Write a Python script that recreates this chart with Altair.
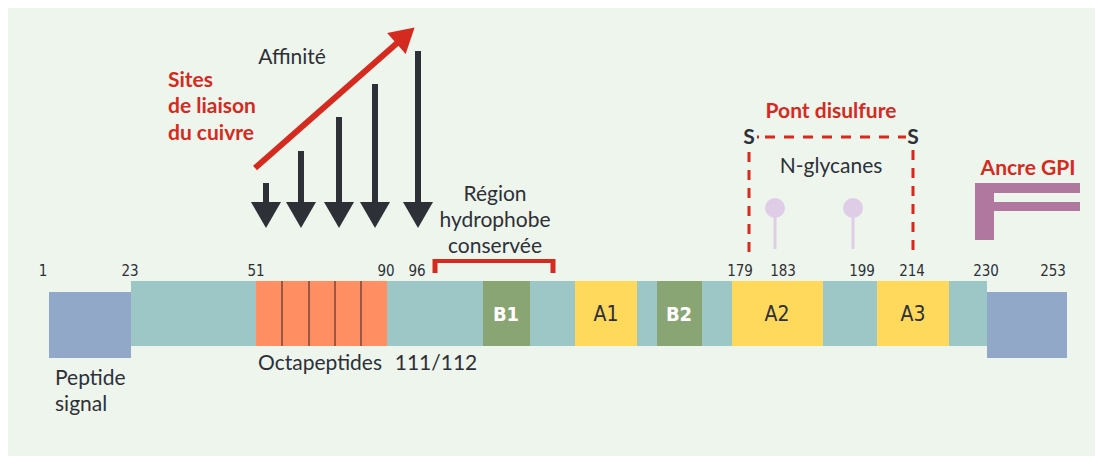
import altair as alt
import pandas as pd

# ---------------- data (diagram units = horizontal place along the schematic) ----------------
seg_names = ["Peptide signal", "Chaîne", "Octapeptides", "B1", "A1", "B2", "A2", "A3", "Signal GPI"]
seg_kind = ["signal", "core", "octa", "beta", "alpha", "beta", "alpha", "alpha", "signal"]
seg_start = [49, 131, 256, 483, 575, 657, 732, 877, 987]
seg_end = [131, 987, 387, 530, 637, 702, 823, 949, 1067]

octa_bounds = [282, 309, 335, 361]          # borders between the 5 octapeptide repeats

res_labels = ["1", "23", "51", "90", "96", "179", "183", "199", "214", "230", "253"]
res_pos = [43, 130, 256, 386, 417, 740, 783, 862, 912, 986, 1053]

sse_labels = ["B1", "A1", "B2", "A2", "A3"]
sse_pos = [506, 606, 679, 777, 913]

cu_sites = [266, 301, 339, 375, 418]          # copper binding sites
cu_affinity = [183, 151, 117, 84, 51]         # top of each arrow (higher = stronger affinity)

glycan_pos = [775, 853]                       # N-glycans (183 / 199)
ss_pos = [749, 913]                           # disulfide bridge cysteines (179 / 214)

# ---------------- layout ----------------
W, H = 1087, 448
X0, Y0 = 8, 8
BG = "#eef5ec"
TEAL = "#9dc6c6"
BLUE = "#91a8c8"
ORANGE = "#ff8f62"
GREEN = "#89a574"
YELLOW = "#ffd95c"
RED = "#d42a1f"
DARK = "#2d3037"
LILAC = "#dfcde8"
PURPLE = "#b1789f"
DIVIDER = "#7a4535"
NARROW = "'DejaVu Sans Condensed', 'DejaVu Sans', sans-serif"
SANS = "Lato, 'Open Sans', sans-serif"

kind_color = {"signal": BLUE, "core": TEAL, "octa": ORANGE, "beta": GREEN, "alpha": YELLOW}
kind_y = {"signal": (292, 358), "core": (281, 346), "octa": (281, 346),
          "beta": (281, 346), "alpha": (281, 346)}
kind_order = {"signal": 1, "core": 0, "octa": 2, "beta": 2, "alpha": 2}

XS = alt.Scale(domain=[X0, X0 + W], nice=False, zero=False)
YS = alt.Scale(domain=[Y0 + H, Y0], nice=False, zero=False)


def X(f="x"):
    return alt.X(f"{f}:Q", scale=XS, axis=None)


def Y(f="y"):
    return alt.Y(f"{f}:Q", scale=YS, axis=None)


# segments of the protein
seg = pd.DataFrame({
    "name": seg_names, "kind": seg_kind, "x": seg_start, "x2": seg_end,
})
seg["y"] = [kind_y[k][0] for k in seg_kind]
seg["y2"] = [kind_y[k][1] for k in seg_kind]
seg["color"] = [kind_color[k] for k in seg_kind]
seg["order"] = [kind_order[k] for k in seg_kind]

layers = []
for o in [0, 1, 2]:
    d = seg[seg["order"] == o]
    layers.append(alt.Chart(d).mark_rect().encode(
        x=X("x"), x2="x2:Q", y=Y("y"), y2="y2:Q",
        color=alt.Color("color:N", scale=None)))

# octapeptide repeat borders
layers.append(alt.Chart(pd.DataFrame({"x": octa_bounds, "y": 281, "y2": 346})).mark_rule(
    color=DIVIDER, strokeWidth=1.5).encode(x=X("x"), y=Y("y"), y2="y2:Q"))


def text_layer(df, **mk):
    return alt.Chart(df).mark_text(**mk).encode(x=X("x"), y=Y("y"), text="t:N")


# residue numbers
layers.append(text_layer(pd.DataFrame({"x": res_pos, "y": 276, "t": res_labels}),
                         font=NARROW, fontSize=15, color=DARK,
                         align="center", baseline="alphabetic"))

# secondary structure labels
sse = pd.DataFrame({"x": sse_pos, "y": 321, "t": sse_labels})
layers.append(text_layer(sse[sse["t"].str.startswith("B")], font=NARROW,
                         fontSize=20, fontWeight="bold", color="white",
                         align="center", baseline="alphabetic"))
layers.append(text_layer(sse[sse["t"].str.startswith("A")], font=NARROW,
                         fontSize=21, color=DARK, align="center", baseline="alphabetic"))

# dark labels
dark_txt = pd.DataFrame({
    "x": [55, 55, 320, 436, 495, 495, 495, 292, 831],
    "y": [385, 411, 370, 370, 201, 227, 253, 64, 173],
    "t": ["Peptide", "signal", "Octapeptides", "111/112", "Région", "hydrophobe",
          "conservée", "Affinité", "N-glycanes"],
    "a": ["left", "left", "center", "center", "center", "center", "center", "center", "center"],
})
for a in ["left", "center"]:
    layers.append(text_layer(dark_txt[dark_txt["a"] == a], font=SANS, fontSize=21,
                             color=DARK, align=a, baseline="alphabetic"))

# red bold labels
red_txt = pd.DataFrame({
    "x": [168, 168, 168, 831, 1028],
    "y": [87, 113, 140, 118, 175],
    "t": ["Sites", "de liaison", "du cuivre", "Pont disulfure", "Ancre GPI"],
    "a": ["left", "left", "left", "center", "center"],
})
for a in ["left", "center"]:
    layers.append(text_layer(red_txt[red_txt["a"] == a], font=SANS, fontSize=21,
                             fontWeight="bold", color=RED, align=a, baseline="alphabetic"))

# S atoms
layers.append(text_layer(pd.DataFrame({"x": ss_pos, "y": 144, "t": ["S", "S"]}),
                         font=SANS, fontSize=21, fontWeight="bold", color=DARK,
                         align="center", baseline="alphabetic"))

# hydrophobic region bracket
layers.append(alt.Chart(pd.DataFrame({"x": [433], "x2": [555], "y": [261]})).mark_rule(
    color=RED, strokeWidth=4).encode(x=X("x"), x2="x2:Q", y=Y("y")))
layers.append(alt.Chart(pd.DataFrame({"x": [435, 553], "y": 259, "y2": 273})).mark_rule(
    color=RED, strokeWidth=5).encode(x=X("x"), y=Y("y"), y2="y2:Q"))

# disulfide dashed lines
layers.append(alt.Chart(pd.DataFrame({"x": ss_pos, "y": [152, 150], "y2": 255})).mark_rule(
    color=RED, strokeWidth=3, strokeDash=[10, 8]).encode(x=X("x"), y=Y("y"), y2="y2:Q"))
layers.append(alt.Chart(pd.DataFrame({"x": [765], "x2": [906], "y": [137]})).mark_rule(
    color=RED, strokeWidth=3, strokeDash=[10, 9]).encode(x=X("x"), x2="x2:Q", y=Y("y")))
layers.append(alt.Chart(pd.DataFrame({"x": [757], "x2": [759], "y": [137]})).mark_rule(
    color=RED, strokeWidth=3).encode(x=X("x"), x2="x2:Q", y=Y("y")))

# glycans
layers.append(alt.Chart(pd.DataFrame({"x": glycan_pos, "y": 208, "y2": 249})).mark_rule(
    color=LILAC, strokeWidth=3).encode(x=X("x"), y=Y("y"), y2="y2:Q"))
layers.append(alt.Chart(pd.DataFrame({"x": glycan_pos, "y": 208})).mark_point(
    shape="circle", filled=True, size=400, color=LILAC, opacity=1, strokeWidth=0).encode(
    x=X("x"), y=Y("y")))

# GPI anchor
gpi = pd.DataFrame({"x": [975, 975, 994], "x2": [994, 1080, 1080],
                    "y": [183, 183, 202], "y2": [240, 193, 211]})
layers.append(alt.Chart(gpi).mark_rect(color=PURPLE).encode(
    x=X("x"), x2="x2:Q", y=Y("y"), y2="y2:Q"))

# copper arrows
cu = pd.DataFrame({"x": cu_sites, "y": cu_affinity, "y2": 204, "yh": 215})
layers.append(alt.Chart(cu).mark_rule(color=DARK, strokeWidth=6).encode(
    x=X("x"), y=Y("y"), y2="y2:Q"))
layers.append(alt.Chart(cu).mark_point(shape="triangle-down", filled=True, size=900,
                                       color=DARK, opacity=1, strokeWidth=0).encode(
    x=X("x"), y=Y("yh")))

# affinity arrow
layers.append(alt.Chart(pd.DataFrame({"x": [255], "y": [168], "x2": [404], "y2": [37]})).mark_rule(
    color=RED, strokeWidth=6).encode(x=X("x"), y=Y("y"), x2="x2:Q", y2="y2:Q"))
layers.append(alt.Chart(pd.DataFrame({"x": [405.5], "y": [35.5]})).mark_point(
    shape="triangle-up", filled=True, size=784, color=RED, opacity=1, strokeWidth=0,
    angle=48.6).encode(x=X("x"), y=Y("y")))

chart = alt.layer(*layers).properties(
    width=W, height=H, padding=0, background=BG
).configure_view(strokeWidth=0)

chart.save("out.html", embed_options={"renderer": "svg", "actions": False})
